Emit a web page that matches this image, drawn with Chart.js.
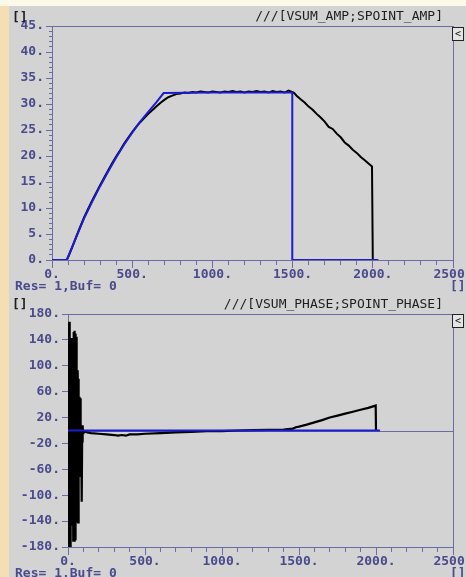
<!DOCTYPE html>
<html><head><meta charset="utf-8">
<script src="https://cdn.jsdelivr.net/npm/chart.js@4/dist/chart.umd.min.js"></script>
<style>
html,body{margin:0;padding:0;width:466px;height:577px;overflow:hidden;background:#d3d3d3;font-family:"DejaVu Sans Mono",monospace;}
#topstrip{position:absolute;left:0;top:0;width:466px;height:6px;background:#fcf8ea;}
#leftstrip{position:absolute;left:0;top:6px;width:9px;height:571px;background:#f5deb3;}
.box{position:absolute;left:0;width:490px;}
.txt{position:absolute;font-size:13px;line-height:13px;white-space:pre;color:#4a4a8c;font-weight:bold;}
.ttl{color:#1e1e1e;font-weight:normal;}
.btn{position:absolute;left:452px;width:10px;height:12px;border:1px solid #222;background:#e4e4e4;font-size:10px;line-height:12px;text-align:center;color:#111;}
</style></head>
<body>
<div id="topstrip"></div><div id="leftstrip"></div>
<div class="box" style="top:0;height:290px;"><canvas id="c1"></canvas></div>
<div class="box" style="top:288px;height:289px;"><canvas id="c2"></canvas></div>
<div class="txt ttl" style="left:12px;top:10px;font-weight:bold;">[]</div>
<div class="txt ttl" style="right:23px;top:9px;">///[VSUM_AMP;SPOINT_AMP]</div>
<div class="btn" style="top:27px;">&lt;</div>
<div class="txt" style="left:15px;top:279px;">Res= 1,Buf= 0</div>
<div class="txt" style="left:450px;top:279px;">[]</div>
<div class="txt ttl" style="left:12px;top:297px;font-weight:bold;">[]</div>
<div class="txt ttl" style="right:23px;top:297px;">///[VSUM_PHASE;SPOINT_PHASE]</div>
<div class="btn" style="top:314px;">&lt;</div>
<div class="txt" style="left:15px;top:566px;">Res= 1,Buf= 0</div>
<div class="txt" style="left:450px;top:566px;">[]</div>
<script>
// ---- tick labels ----
const xLabels = [0, 500, 1000, 1500, 2000, 2500];
const ampYLabels = [0, 5, 10, 15, 20, 25, 30, 35, 40, 45];
const phaseYLabels = [-180, -140, -100, -60, -20, 20, 60, 100, 140, 180];

// ---- top chart: SPOINT_AMP (blue) ----
const spointAmpX = [0, 92, 150, 200, 250, 300, 350, 400, 450, 500, 550, 600, 650, 696, 1000, 1498, 1498, 2035];
const spointAmpY = [0, 0, 4.3, 8.0, 11.2, 14.2, 17.0, 19.7, 22.2, 24.5, 26.6, 28.5, 30.3, 32.1, 32.2, 32.2, 0, 0];

// ---- top chart: VSUM_AMP (black) ----
const vsumAmpX = [0,50,92,100,125,150,175,200,225,250,275,300,325,350,375,400,425,450,475,500,525,550,575,600,625,650,675,700,725,750,775,800,825,850,875,900,925,950,975,1000,1025,1050,1075,1100,1125,1150,1175,1200,1225,1250,1275,1300,1325,1350,1375,1400,1425,1450,1475,1500,1510,1525,1550,1575,1600,1625,1650,1675,1700,1725,1750,1775,1800,1825,1850,1875,1900,1925,1950,1975,1995,2000];
const vsumAmpY = [0,0,0,0.5,2.4,4.4,6.3,8.2,9.8,11.4,12.9,14.4,15.8,17.2,18.6,19.9,21.1,22.4,23.5,24.6,25.6,26.5,27.3,28.1,28.8,29.5,30.2,30.8,31.3,31.6,31.9,32.0,32.2,32.1,32.3,32.2,32.4,32.3,32.2,32.4,32.3,32.2,32.4,32.3,32.5,32.3,32.4,32.2,32.4,32.3,32.5,32.3,32.4,32.2,32.5,32.3,32.4,32.2,32.6,32.3,32.1,31.6,30.9,30.3,29.5,28.9,28.1,27.4,26.6,25.6,25.2,24.3,23.6,22.6,22.0,21.2,20.6,19.8,19.2,18.5,18.0,0];

// ---- bottom chart: SPOINT_PHASE (blue) ----
const spointPhaseX = [0, 2026];
const spointPhaseY = [0, 0];

// ---- bottom chart: VSUM_PHASE (black) ----
const vsumPhaseX = [0,2,4,6,8,10,12,14,16,18,20,22,24,26,28,30,32,34,36,38,40,42,44,46,48,50,52,54,56,58,60,62,64,66,68,70,72,74,76,78,80,82,84,86,88,90,92,94,96,98,100,
  110,125,150,200,250,300,325,350,375,400,450,500,600,700,800,900,1000,1100,1200,1300,1400,1460,1480,1500,1550,1600,1650,1700,1750,1800,1850,1900,1950,1998,2000];
const vsumPhaseY = [165,-178,160,-180,168,-175,140,-180,143,-176,138,-147,142,-140,135,-145,143,-170,152,-165,148,-172,154,-168,150,-160,145,-142,95,-140,90,-138,93,-142,80,-25,52,-72,45,-20,50,-15,8,-25,5,-110,-8,-10,8,-4,-2,
  -2,-3,-4,-5,-6,-7,-8,-7,-8,-6,-6,-5,-4,-3,-2,-1,-1,0,0.5,1,1.5,3,5,6,9,12.5,16,20,23,26,29,32,35,38.5,0];

const AXIS = '#6b6ba6', LBL = '#4a4a8c';
const FONT = {family: '"DejaVu Sans Mono", monospace', size: 13, weight: 'bold'};
const pts = (xs, ys) => xs.map((x, i) => ({x: x, y: ys[i]}));
function ticksFrom(labels, step) {
  const out = [];
  for (let v = labels[0]; v <= labels[labels.length - 1] + 1e-9; v += step) out.push({value: Math.round(v * 1000) / 1000});
  return out;
}
const fmt = labels => v => labels.includes(v) ? v + '.' : '';
function xScale(labels, step) {
  return {
    type: 'linear', position: 'bottom', min: labels[0], max: labels[labels.length - 1],
    afterBuildTicks: s => { s.ticks = ticksFrom(labels, step); },
    afterFit: s => { s.height = 30; },
    ticks: {autoSkip: false, maxRotation: 0, minRotation: 0, padding: -1, color: LBL, font: FONT, callback: fmt(labels)},
    grid: {drawOnChartArea: false, drawTicks: true, tickLength: 8, tickWidth: 1, tickColor: AXIS,
      tickBorderDash: c => (c.tick && labels.includes(c.tick.value)) ? [] : [4, 50]},
    border: {display: true, color: AXIS, width: 1}
  };
}
function yScale(labels, step, width) {
  return {
    type: 'linear', position: 'left', min: labels[0], max: labels[labels.length - 1],
    afterBuildTicks: s => { s.ticks = ticksFrom(labels, step); },
    afterFit: s => { s.width = width; },
    ticks: {autoSkip: false, padding: 2, color: LBL, font: FONT, callback: fmt(labels)},
    grid: {drawOnChartArea: false, drawTicks: true, tickLength: 6, tickWidth: 1, tickColor: AXIS,
      tickBorderDash: c => (c.tick && labels.includes(c.tick.value)) ? [] : [0, 3, 3, 50]},
    border: {display: true, color: AXIS, width: 1}
  };
}
function frame(xl, yl) {
  return {
    x2: {type: 'linear', position: 'top', min: xl[0], max: xl[xl.length - 1], ticks: {display: false},
      grid: {display: false, drawTicks: false}, border: {display: true, color: AXIS}, afterFit: s => { s.height = 0; }},
    y2: {type: 'linear', position: 'right', min: yl[0], max: yl[yl.length - 1], ticks: {display: false},
      grid: {display: false, drawTicks: false}, border: {display: true, color: AXIS}, afterFit: s => { s.width = 0; }}
  };
}
const zeroLine = {
  id: 'zeroLine',
  beforeDatasetsDraw(chart) {
    const y = Math.round(chart.scales.y.getPixelForValue(0)) + 0.5, a = chart.chartArea, ctx = chart.ctx;
    ctx.save(); ctx.strokeStyle = AXIS; ctx.lineWidth = 1;
    ctx.beginPath(); ctx.moveTo(a.left, y); ctx.lineTo(a.right, y); ctx.stroke(); ctx.restore();
  }
};
const common = {
  animation: false, responsive: true, maintainAspectRatio: false, devicePixelRatio: 1,
  plugins: {legend: {display: false}, tooltip: {enabled: false}, title: {display: false}},
  elements: {point: {radius: 0}, line: {tension: 0}}
};
new Chart(document.getElementById('c1'), {
  type: 'line',
  data: {datasets: [
    {label: 'SPOINT_AMP', data: pts(spointAmpX, spointAmpY), borderColor: '#1c1cd0', borderWidth: 2, xAxisID: 'x', yAxisID: 'y'},
    {label: 'VSUM_AMP', data: pts(vsumAmpX, vsumAmpY), borderColor: '#000000', borderWidth: 2, xAxisID: 'x', yAxisID: 'y'}
  ]},
  options: Object.assign({}, common, {
    layout: {padding: {left: 8, right: 37, top: 26, bottom: 0}},
    scales: Object.assign({x: xScale(xLabels, 100), y: yScale(ampYLabels, 1, 44)}, frame(xLabels, ampYLabels))
  })
});
new Chart(document.getElementById('c2'), {
  type: 'line',
  data: {datasets: [
    {label: 'SPOINT_PHASE', data: pts(spointPhaseX, spointPhaseY), borderColor: '#1c1cd0', borderWidth: 2, xAxisID: 'x', yAxisID: 'y'},
    {label: 'VSUM_PHASE', data: pts(vsumPhaseX, vsumPhaseY), borderColor: '#000000', borderWidth: 2.2, xAxisID: 'x', yAxisID: 'y'}
  ]},
  options: Object.assign({}, common, {
    layout: {padding: {left: 18, right: 37, top: 26, bottom: 0}},
    scales: Object.assign({x: xScale(xLabels, 100), y: yScale(phaseYLabels, 40, 50)}, frame(xLabels, phaseYLabels))
  }),
  plugins: [zeroLine]
});
</script>
</body></html>
